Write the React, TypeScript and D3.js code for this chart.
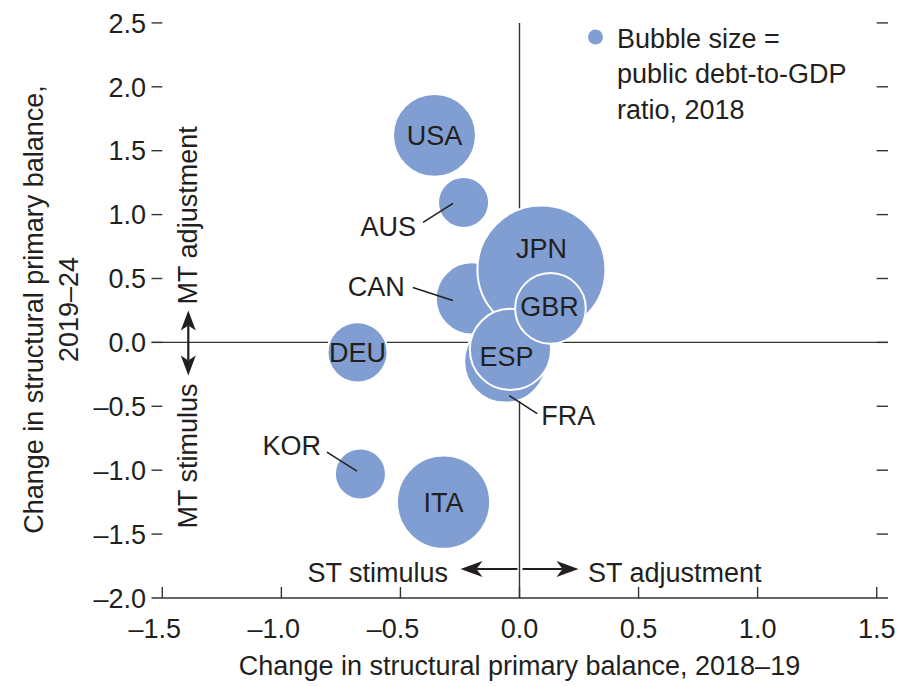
import React from "react";
import * as d3 from "d3";

// ---- data ----
const countries = ["USA", "AUS", "JPN", "GBR", "CAN", "DEU", "ESP", "FRA", "KOR", "ITA"];
const stChange = [-0.357, -0.235, 0.092, 0.13, -0.2, -0.68, -0.038, -0.06, -0.668, -0.319];
const mtChange = [1.62, 1.095, 0.571, 0.266, 0.344, -0.078, -0.055, -0.15, -1.03, -1.25];
const debtRatio = [99, 37.5, 236, 72, 75, 52, 95, 97, 37.5, 125];
const xTicks = [-1.5, -1.0, -0.5, 0.0, 0.5, 1.0, 1.5];
const yTicks = [2.5, 2.0, 1.5, 1.0, 0.5, 0.0, -0.5, -1.0, -1.5, -2.0];
const drawOrder = ["USA", "AUS", "KOR", "ITA", "DEU", "CAN", "FRA", "JPN", "ESP", "GBR"];
const legendLines = ["Bubble size =", "public debt-to-GDP", "ratio, 2018"];
const xTitle = "Change in structural primary balance, 2018–19";
const yTitleLines = ["Change in structural primary balance,", "2019–24"];

// ---- layout ----
const W = 898;
const H = 686;
const FONT = "'Liberation Sans', Arial, Helvetica, sans-serif";
const FS = 27;
const TEXT = "#231f20";
const LINE = "#333333";
const BUBBLE = "#809ed2";

// label placement: inside labels offset, outside labels with leader lines (px, relative to bubble centre)
const insideLabels: Record<string, [number, number]> = {
  USA: [0, 0],
  JPN: [0, -21],
  GBR: [-1, -2.5],
  ESP: [-4, 6.5],
  DEU: [0, 0],
  ITA: [0, 0],
};
const outsideLabels: Record<string, { tx: number; ty: number; anchor: string; l: [number, number, number, number] }> = {
  AUS: { tx: -47.5, ty: 24, anchor: "end", l: [-40.5, 20, -10.5, 1] },
  CAN: { tx: -67, ty: -12, anchor: "end", l: [-59, -11, -19, 2] },
  FRA: { tx: 36, ty: 54, anchor: "start", l: [4, 34, 32, 52] },
  KOR: { tx: -39.5, ty: -29, anchor: "end", l: [-33.5, -22, -3.5, -3] },
};

const fmt = (v: number) => d3.format(".1f")(v).replace("−", "–").replace("-", "–");

function arrowPath(x1: number, y1: number, x2: number, y2: number, len = 20, half = 7.5, notch = 5) {
  // shaft from (x1,y1) to tip (x2,y2), barbed head
  const dx = x2 - x1;
  const dy = y2 - y1;
  const L = Math.hypot(dx, dy);
  const ux = dx / L;
  const uy = dy / L;
  const px = -uy;
  const py = ux;
  const bx = x2 - ux * len;
  const by = y2 - uy * len;
  const nx = x2 - ux * (len - notch);
  const ny = y2 - uy * (len - notch);
  const head = `M${x2},${y2}L${bx + px * half},${by + py * half}L${nx},${ny}L${bx - px * half},${by - py * half}Z`;
  return { shaft: `M${x1},${y1}L${nx},${ny}`, head };
}

export default function App() {
  const x = d3.scaleLinear().domain([-1.5, 1.5]).range([162.3, 876.7]);
  const y = d3.scaleLinear().domain([-2.0, 2.5]).range([598, 22.9]);
  const r = d3.scaleSqrt().domain([0, 236]).range([0, 64]);

  const x0 = x(0);
  const y0 = y(0);
  const xL = 151.5;
  const xR = 888;
  const yB = y(-2.0);

  const rows = countries.map((c, i) => ({
    c,
    cx: x(stChange[i]),
    cy: y(mtChange[i]),
    rr: r(debtRatio[i]),
  }));
  const ordered = drawOrder.map((c) => rows.find((d) => d.c === c)!);

  const aUp = arrowPath(188.3, y0, 188.3, y0 - 32, 20, 7.5, 5);
  const aDown = arrowPath(188.3, y0, 188.3, y0 + 33, 20, 7.5, 5);
  const aLeft = arrowPath(x0 - 2, 569, x0 - 59, 569, 22, 8, 6);
  const aRight = arrowPath(x0 + 3, 569, x0 + 59, 569, 22, 8, 6);

  return (
    <svg
      width={W}
      height={H}
      viewBox={`0 0 ${W} ${H}`}
      style={{ position: "absolute", left: 0, top: 0, background: "#fff" }}
      fontFamily={FONT}
    >
      <rect x={0} y={0} width={W} height={H} fill="#fff" />

      {/* reference lines */}
      <line x1={xL} x2={xR} y1={y0} y2={y0} stroke={LINE} strokeWidth={1.4} />
      <line x1={x0} x2={x0} y1={y(2.5)} y2={yB} stroke={LINE} strokeWidth={1.4} />

      {/* bottom axis */}
      <line x1={xL} x2={xR} y1={yB} y2={yB} stroke={LINE} strokeWidth={1.4} />
      {xTicks.map((t) => (
        <g key={"xt" + t}>
          <line x1={x(t)} x2={x(t)} y1={yB} y2={yB - 11} stroke={LINE} strokeWidth={1.4} />
          <text
            x={x(t)}
            y={638}
            textAnchor="middle"
            dx={t < 0 ? "-0.278em" : 0}
            fontSize={FS}
            fill={TEXT}
          >
            {fmt(t)}
          </text>
        </g>
      ))}

      {/* left and right ticks */}
      {yTicks.map((t) => (
        <g key={"yt" + t}>
          {t !== -2.0 && (
            <>
              <line x1={xL} x2={x(-1.5)} y1={y(t)} y2={y(t)} stroke={LINE} strokeWidth={1.4} />
              <line x1={x(1.5)} x2={xR} y1={y(t)} y2={y(t)} stroke={LINE} strokeWidth={1.4} />
            </>
          )}
          <text x={146} y={y(t)} dy="0.36em" textAnchor="end" fontSize={FS} fill={TEXT}>
            {fmt(t)}
          </text>
        </g>
      ))}

      {/* bubbles */}
      {ordered.map((d) => (
        <circle key={d.c} cx={d.cx} cy={d.cy} r={d.rr} fill={BUBBLE} stroke="#ffffff" strokeWidth={2} />
      ))}

      {/* labels inside */}
      {rows
        .filter((d) => insideLabels[d.c])
        .map((d) => (
          <text
            key={"li" + d.c}
            x={d.cx + insideLabels[d.c][0]}
            y={d.cy + insideLabels[d.c][1]}
            dy="0.36em"
            textAnchor="middle"
            fontSize={FS}
            fill={TEXT}
          >
            {d.c}
          </text>
        ))}

      {/* labels outside with leader lines */}
      {rows
        .filter((d) => outsideLabels[d.c])
        .map((d) => {
          const o = outsideLabels[d.c];
          return (
            <g key={"lo" + d.c}>
              <line
                x1={d.cx + o.l[0]}
                y1={d.cy + o.l[1]}
                x2={d.cx + o.l[2]}
                y2={d.cy + o.l[3]}
                stroke={TEXT}
                strokeWidth={1.5}
              />
              <text
                x={d.cx + o.tx}
                y={d.cy + o.ty}
                dy="0.36em"
                textAnchor={o.anchor}
                fontSize={FS}
                fill={TEXT}
              >
                {d.c}
              </text>
            </g>
          );
        })}

      {/* arrows and annotations */}
      {[aUp, aDown, aLeft, aRight].map((a, i) => (
        <g key={"ar" + i}>
          <path d={a.shaft} stroke={TEXT} strokeWidth={2.2} fill="none" />
          <path d={a.head} fill={TEXT} />
        </g>
      ))}
      <text x={448} y={582} textAnchor="end" fontSize={FS} fill={TEXT}>
        ST stimulus
      </text>
      <text x={588} y={582} textAnchor="start" fontSize={FS} fill={TEXT}>
        ST adjustment
      </text>
      <text transform={`translate(197,${y0 - 38}) rotate(-90)`} textAnchor="start" fontSize={FS} fill={TEXT}>
        MT adjustment
      </text>
      <text transform={`translate(197,${y0 + 41}) rotate(-90)`} textAnchor="end" fontSize={FS} fill={TEXT}>
        MT stimulus
      </text>

      {/* axis titles */}
      <text x={x0} y={675} textAnchor="middle" fontSize={FS} fill={TEXT}>
        {xTitle}
      </text>
      {yTitleLines.map((s, i) => (
        <text
          key={"yt" + i}
          transform={`translate(${42.5 + i * 35},309.5) rotate(-90)`}
          textAnchor="middle"
          fontSize={FS}
          fill={TEXT}
        >
          {s}
        </text>
      ))}

      {/* legend */}
      <circle cx={595.5} cy={37} r={7.5} fill={BUBBLE} />
      {legendLines.map((s, i) => (
        <text key={"lg" + i} x={617} y={48 + i * 35.3} fontSize={FS} fill={TEXT}>
          {s}
        </text>
      ))}
    </svg>
  );
}
